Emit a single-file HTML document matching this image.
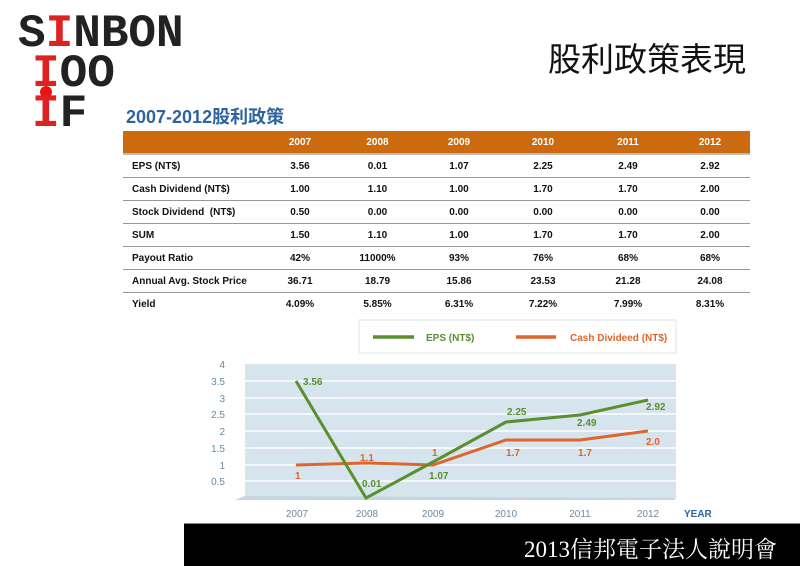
<!DOCTYPE html>
<html><head><meta charset="utf-8"><style>
body{margin:0;width:800px;height:565px;background:#fff;position:relative;overflow:hidden;font-family:"Liberation Sans","Noto Sans CJK TC",sans-serif}
.a{position:absolute;white-space:nowrap}
.logo{font-family:"Liberation Mono",monospace;font-weight:bold;font-size:46px;color:#222;line-height:40px}
table{position:absolute;left:123px;top:131px;width:627px;border-collapse:collapse;font-size:10px;font-weight:bold;color:#111;table-layout:fixed}
td{height:22px;padding:0;text-align:center;border-bottom:1.5px solid #999}
td:first-child{text-align:left;padding-left:9px}
tr.h td{background:#cc6a10;color:#fff;border-bottom:2px solid #bbb}
tr:last-child td{border-bottom:none}
</style></head><body>
<div class="a logo" style="left:18px;top:14px">S<span style="color:#d22">I</span>NBON</div>
<div class="a logo" style="left:32px;top:54px"><span style="color:#d22">I</span>OO</div>
<div class="a" style="left:40px;top:86px;width:12px;height:12px;border-radius:6px;background:#e11"></div>
<div class="a logo" style="left:32px;top:94px"><span style="color:#d22">I</span>F</div>
<div class="a" style="left:548px;top:33px;font-size:33px;color:#111">股利政策表現</div>
<div class="a" style="left:126px;top:103px;font-size:18px;font-weight:bold;color:#2d64a0">2007-2012股利政策</div>
<table>
<colgroup><col style="width:140px"><col style="width:74px"><col style="width:81px"><col style="width:82px"><col style="width:86px"><col style="width:84px"><col style="width:80px"></colgroup>
<tr class="h"><td></td><td>2007</td><td>2008</td><td>2009</td><td>2010</td><td>2011</td><td>2012</td></tr>
<tr><td>EPS (NT$)</td><td>3.56</td><td>0.01</td><td>1.07</td><td>2.25</td><td>2.49</td><td>2.92</td></tr>
<tr><td>Cash Dividend (NT$)</td><td>1.00</td><td>1.10</td><td>1.00</td><td>1.70</td><td>1.70</td><td>2.00</td></tr>
<tr><td>Stock Dividend &nbsp;(NT$)</td><td>0.50</td><td>0.00</td><td>0.00</td><td>0.00</td><td>0.00</td><td>0.00</td></tr>
<tr><td>SUM</td><td>1.50</td><td>1.10</td><td>1.00</td><td>1.70</td><td>1.70</td><td>2.00</td></tr>
<tr><td>Payout Ratio</td><td>42%</td><td>11000%</td><td>93%</td><td>76%</td><td>68%</td><td>68%</td></tr>
<tr><td>Annual Avg. Stock Price</td><td>36.71</td><td>18.79</td><td>15.86</td><td>23.53</td><td>21.28</td><td>24.08</td></tr>
<tr><td>Yield</td><td>4.09%</td><td>5.85%</td><td>6.31%</td><td>7.22%</td><td>7.99%</td><td>8.31%</td></tr>
</table>
<svg class="a" style="left:0;top:0" width="800" height="565" font-family="Liberation Sans,sans-serif">
<rect x="359" y="320" width="317" height="33" fill="#fff" stroke="#dde4ea"/>
<line x1="373" y1="337" x2="414" y2="337" stroke="#5a8f2e" stroke-width="3.5"/>
<text x="426" y="341" font-size="10" font-weight="bold" fill="#5a8f2e">EPS (NT$)</text>
<line x1="516" y1="337" x2="556" y2="337" stroke="#e0652a" stroke-width="3.5"/>
<text x="570" y="341" font-size="10" font-weight="bold" fill="#e0652a">Cash Divideed (NT$)</text>
<polygon points="245,364 676,364 676,498 674,500 235,500 245,496" fill="#d6e4ed"/>
<polygon points="235,500 674,500 676,498 245,496" fill="#c6d6e0"/>
<g stroke="#fff" stroke-width="1.5">
<line x1="245" y1="381" x2="676" y2="381"/><line x1="245" y1="398" x2="676" y2="398"/><line x1="245" y1="414" x2="676" y2="414"/><line x1="245" y1="431" x2="676" y2="431"/><line x1="245" y1="448" x2="676" y2="448"/><line x1="245" y1="465" x2="676" y2="465"/><line x1="245" y1="481" x2="676" y2="481"/>
</g>
<g font-size="10" fill="#6b8aa0" text-anchor="end">
<text x="225" y="368">4</text><text x="225" y="385">3.5</text><text x="225" y="402">3</text><text x="225" y="418">2.5</text><text x="225" y="435">2</text><text x="225" y="452">1.5</text><text x="225" y="469">1</text><text x="225" y="485">0.5</text>
</g>
<g font-size="10" fill="#6b8aa0" text-anchor="middle">
<text x="297" y="517">2007</text><text x="367" y="517">2008</text><text x="433" y="517">2009</text><text x="506" y="517">2010</text><text x="580" y="517">2011</text><text x="648" y="517">2012</text>
</g>
<text x="684" y="517" font-size="10" font-weight="bold" fill="#2d64a0">YEAR</text>
<polyline points="296,465 367,463 433,465 506,440 580,440 648,431" fill="none" stroke="#e0652a" stroke-width="3"/>
<polyline points="296,381 366,498 433,462 506,422 580,415 648,400" fill="none" stroke="#5a8f2e" stroke-width="3"/>
<g font-size="10" font-weight="bold" fill="#5a8f2e">
<text x="303" y="385">3.56</text><text x="362" y="487">0.01</text><text x="429" y="479">1.07</text><text x="507" y="415">2.25</text><text x="577" y="426">2.49</text><text x="646" y="410">2.92</text>
</g>
<g font-size="10" font-weight="bold" fill="#e0652a">
<text x="295" y="479">1</text><text x="360" y="461">1.1</text><text x="432" y="456">1</text><text x="506" y="456">1.7</text><text x="578" y="456">1.7</text><text x="646" y="445">2.0</text>
</g>
</svg>
<div class="a" style="left:184px;top:523px;width:616px;height:42px;background:#000;border-top:1px solid #888"></div>
<div class="a" style="left:524px;top:531px;font-size:23px;color:#fff;font-family:'Liberation Serif','Noto Serif CJK SC',serif">2013信邦電子法人說明會</div>
</body></html>
